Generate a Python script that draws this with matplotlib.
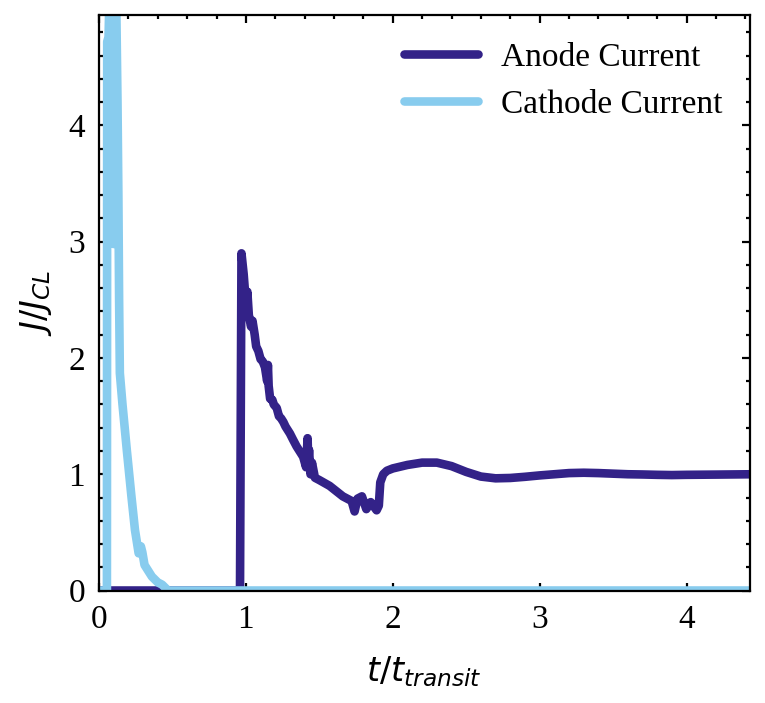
import numpy as np
import matplotlib
matplotlib.use("Agg")
import matplotlib.pyplot as plt
from matplotlib.ticker import MultipleLocator

# anode current
anode_t = [0, 0.96, 0.97, 0.985, 1.0, 1.01, 1.02, 1.035, 1.045, 1.06, 1.07,
           1.085, 1.1, 1.115, 1.13, 1.145, 1.15, 1.155, 1.165, 1.18, 1.19,
           1.21, 1.225, 1.24, 1.255, 1.27, 1.3, 1.32, 1.345, 1.37, 1.39,
           1.41, 1.42, 1.425, 1.43, 1.44, 1.45, 1.47, 1.5, 1.57, 1.66, 1.72,
           1.74, 1.76, 1.79, 1.82, 1.85, 1.89, 1.905, 1.915, 1.935, 1.96, 2.0,
           2.1, 2.2, 2.3, 2.4, 2.5, 2.6, 2.7, 2.8, 2.9, 3.0, 3.1, 3.2, 3.3, 3.4,
           3.5, 3.6, 3.7, 3.8, 3.9, 4.0, 4.2, 4.45]
anode_j = [0, 0, 2.9, 2.72, 2.47, 2.57, 2.37, 2.27, 2.32, 2.2, 2.1,
           2.06, 1.99, 1.97, 1.92, 1.8, 1.94, 1.76, 1.65, 1.64, 1.6,
           1.57, 1.5, 1.48, 1.45, 1.41, 1.35, 1.3, 1.24, 1.19, 1.15,
           1.06, 1.31, 1.11, 1.21, 1.0, 1.1, 0.97, 0.95, 0.9, 0.81, 0.77,
           0.68, 0.79, 0.81, 0.7, 0.76, 0.69, 0.73, 0.93, 1.0, 1.03, 1.05,
           1.08, 1.1, 1.1, 1.07, 1.02, 0.98, 0.965, 0.968, 0.978, 0.99, 1.0,
           1.01, 1.013, 1.01, 1.005, 1.0, 0.998, 0.995, 0.993, 0.995, 0.997, 1.0]

# cathode current
cathode_t = [0, 0.054, 0.056, 0.065, 0.075, 0.1, 0.108, 0.118, 0.126, 0.132,
             0.137, 0.142, 0.16, 0.19, 0.22, 0.245, 0.27, 0.285, 0.295, 0.31,
             0.36, 0.4, 0.43, 0.47, 4.45]
cathode_j = [0, 0, 4.72, 4.76, 5.3, 2.98, 5.3, 5.0, 4.2, 3.4,
             2.5, 1.87, 1.6, 1.2, 0.82, 0.52, 0.32, 0.38, 0.33, 0.22,
             0.12, 0.07, 0.05, 0.0, 0.0]

plt.rcParams["font.family"] = ["Liberation Serif", "DejaVu Serif"]
plt.rcParams["mathtext.fontset"] = "dejavusans"

fig = plt.figure(figsize=(3.825, 3.515), dpi=200)
ax = fig.add_axes([0.1294, 0.16, 0.8506, 0.8187])

ax.plot(anode_t, anode_j, color="#332288", lw=3.1, label="Anode Current",
        solid_capstyle="round", solid_joinstyle="round")
ax.plot(cathode_t, cathode_j, color="#88CCEE", lw=3.1, label="Cathode Current",
        solid_capstyle="round", solid_joinstyle="round")

ax.set_xlim(0, 4.43)
ax.set_ylim(0, 4.95)
ax.xaxis.set_major_locator(MultipleLocator(1))
ax.xaxis.set_minor_locator(MultipleLocator(0.2))
ax.yaxis.set_major_locator(MultipleLocator(1))
ax.yaxis.set_minor_locator(MultipleLocator(0.2))
ax.tick_params(which="both", direction="in", top=True, right=True,
               labelsize=12, width=0.8, pad=5)
ax.tick_params(which="major", length=3)
ax.tick_params(which="minor", length=1.5)
for s in ax.spines.values():
    s.set_linewidth(0.8)

ax.set_xlabel(r"$t/t_{transit}$", fontsize=12, labelpad=7)
ax.set_ylabel(r"$J/J_{CL}$", fontsize=12, labelpad=5)

ax.legend(frameon=False, fontsize=12, handlelength=2.2, handletextpad=0.7,
          loc="upper right", borderaxespad=0.42)

fig.savefig("out.png", dpi=200)
